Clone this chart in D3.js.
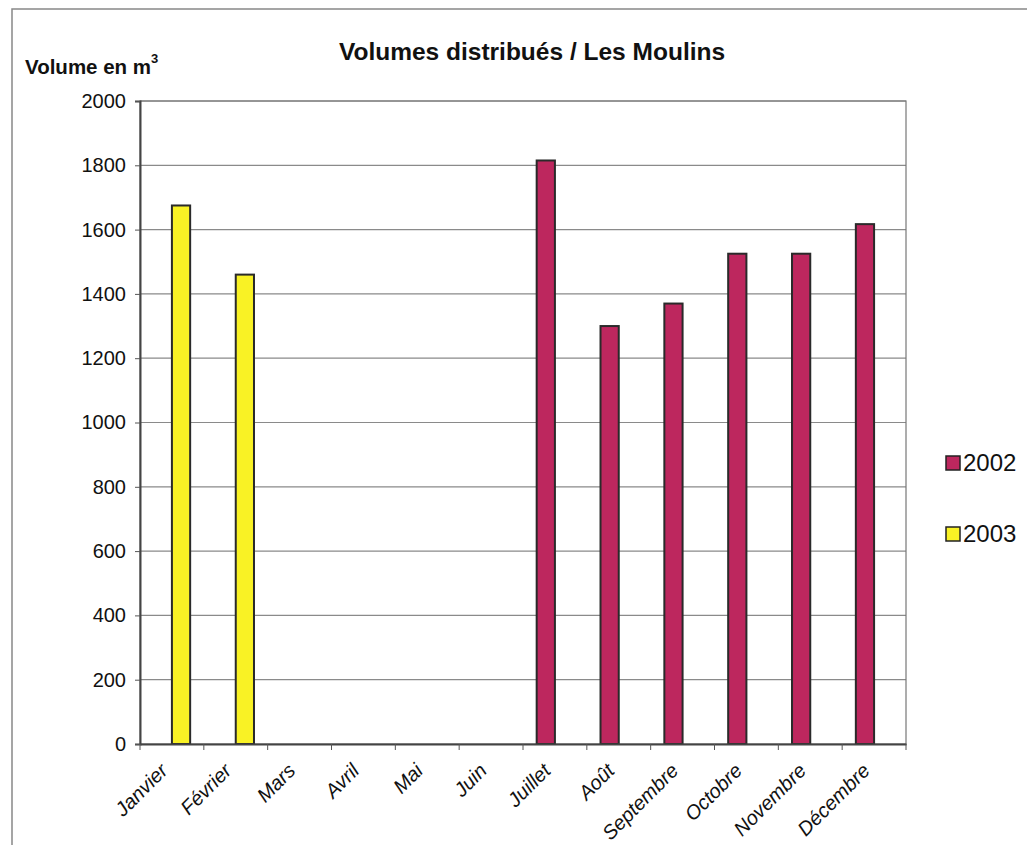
<!DOCTYPE html>
<html><head><meta charset="utf-8">
<script src="https://cdn.jsdelivr.net/npm/d3@7"></script>
<style>body{margin:0;background:#fff}svg{display:block}text{font-family:"Liberation Sans",Arial,sans-serif;fill:#111}</style>
</head><body><svg id="c" width="1027" height="845"></svg>
<script>
const months = ["Janvier","Février","Mars","Avril","Mai","Juin","Juillet","Août","Septembre","Octobre","Novembre","Décembre"];
const seriesNames = ["2002","2003"];
const values2002 = [null,null,null,null,null,null,1815,1300,1370,1525,1525,1617];
const values2003 = [1675,1460,null,null,null,null,null,null,null,null,null,null];
const seriesColors = ["#bd275e","#f9f225"];
const yTicks = [0,200,400,600,800,1000,1200,1400,1600,1800,2000];

const svg = d3.select("#c");
const L = 140, R = 906, T = 101, B = 744;

// page frame
svg.append("path").attr("d","M12,845V9H1027").attr("fill","none").attr("stroke","#888").attr("stroke-width",1.5);

const x = d3.scaleBand().domain(months).range([L,R]).padding(0);
const x1 = d3.scaleBand().domain(seriesNames).range([0,x.bandwidth()]).paddingInner(0).paddingOuter(0.75);
const y = d3.scaleLinear().domain([0,2000]).range([B,T]);

// gridlines
svg.append("g").selectAll("line").data(yTicks.filter(d=>d>0)).join("line")
  .attr("x1",L).attr("x2",R).attr("y1",d=>y(d)).attr("y2",d=>y(d))
  .attr("stroke","#8a8a8a").attr("stroke-width",1.2);
// plot border
svg.append("rect").attr("x",L).attr("y",T).attr("width",R-L).attr("height",B-T)
  .attr("fill","none").attr("stroke","#777").attr("stroke-width",1.2);

// bars
const data = [];
months.forEach((m,i)=>{
  [values2002,values2003].forEach((arr,s)=>{ if(arr[i]!=null) data.push({m, s:seriesNames[s], c:seriesColors[s], v:arr[i]}); });
});
svg.append("g").selectAll("rect").data(data).join("rect")
  .attr("x",d=>x(d.m)+x1(d.s)).attr("width",x1.bandwidth())
  .attr("y",d=>y(d.v)).attr("height",d=>y(0)-y(d.v))
  .attr("fill",d=>d.c).attr("stroke","#2a2a2a").attr("stroke-width",2);

// y axis
const yAxis = svg.append("g").attr("transform",`translate(${L},0)`)
  .call(d3.axisLeft(y).tickValues(yTicks).tickSize(5).tickPadding(9).tickFormat(d3.format("d")));
yAxis.select(".domain").attr("stroke","#444").attr("stroke-width",2);
yAxis.selectAll(".tick line").attr("stroke","#555");
yAxis.selectAll("text").style("font-size","20px").attr("fill","#111");

// x axis
const xAxis = svg.append("g").attr("transform",`translate(0,${B})`)
  .call(d3.axisBottom(x).tickSize(0).tickFormat(""));
xAxis.select(".domain").attr("stroke","#444").attr("stroke-width",2);
const bounds = d3.range(months.length+1).map(i=>L+i*x.step());
xAxis.selectAll(".bnd").data(bounds).join("line").attr("class","bnd")
  .attr("x1",d=>d).attr("x2",d=>d).attr("y1",0).attr("y2",6).attr("stroke","#555");
svg.append("g").selectAll("text").data(months).join("text")
  .attr("transform",d=>`translate(${x(d)+x.bandwidth()/2-3},${B+28}) rotate(-45)`)
  .attr("text-anchor","end").style("font-size","20px").style("font-style","italic").text(d=>d);

// titles
svg.append("text").attr("x",532).attr("y",60).attr("text-anchor","middle")
  .style("font-size","24.5px").style("font-weight","bold").text("Volumes distribués / Les Moulins");
const yl = svg.append("text").attr("x",25).attr("y",74).style("font-size","20.5px").style("font-weight","bold");
yl.append("tspan").text("Volume en m");
yl.append("tspan").attr("dy",-11).style("font-size","13px").text("3");

// legend
const lg = svg.append("g").selectAll("g").data(seriesNames).join("g")
  .attr("transform",(d,i)=>`translate(946,${456+i*71})`);
lg.append("rect").attr("width",14).attr("height",14).attr("fill",(d,i)=>seriesColors[i]).attr("stroke","#222").attr("stroke-width",1.5);
lg.append("text").attr("x",17).attr("y",15).style("font-size","24px").text(d=>d);
</script></body></html>
